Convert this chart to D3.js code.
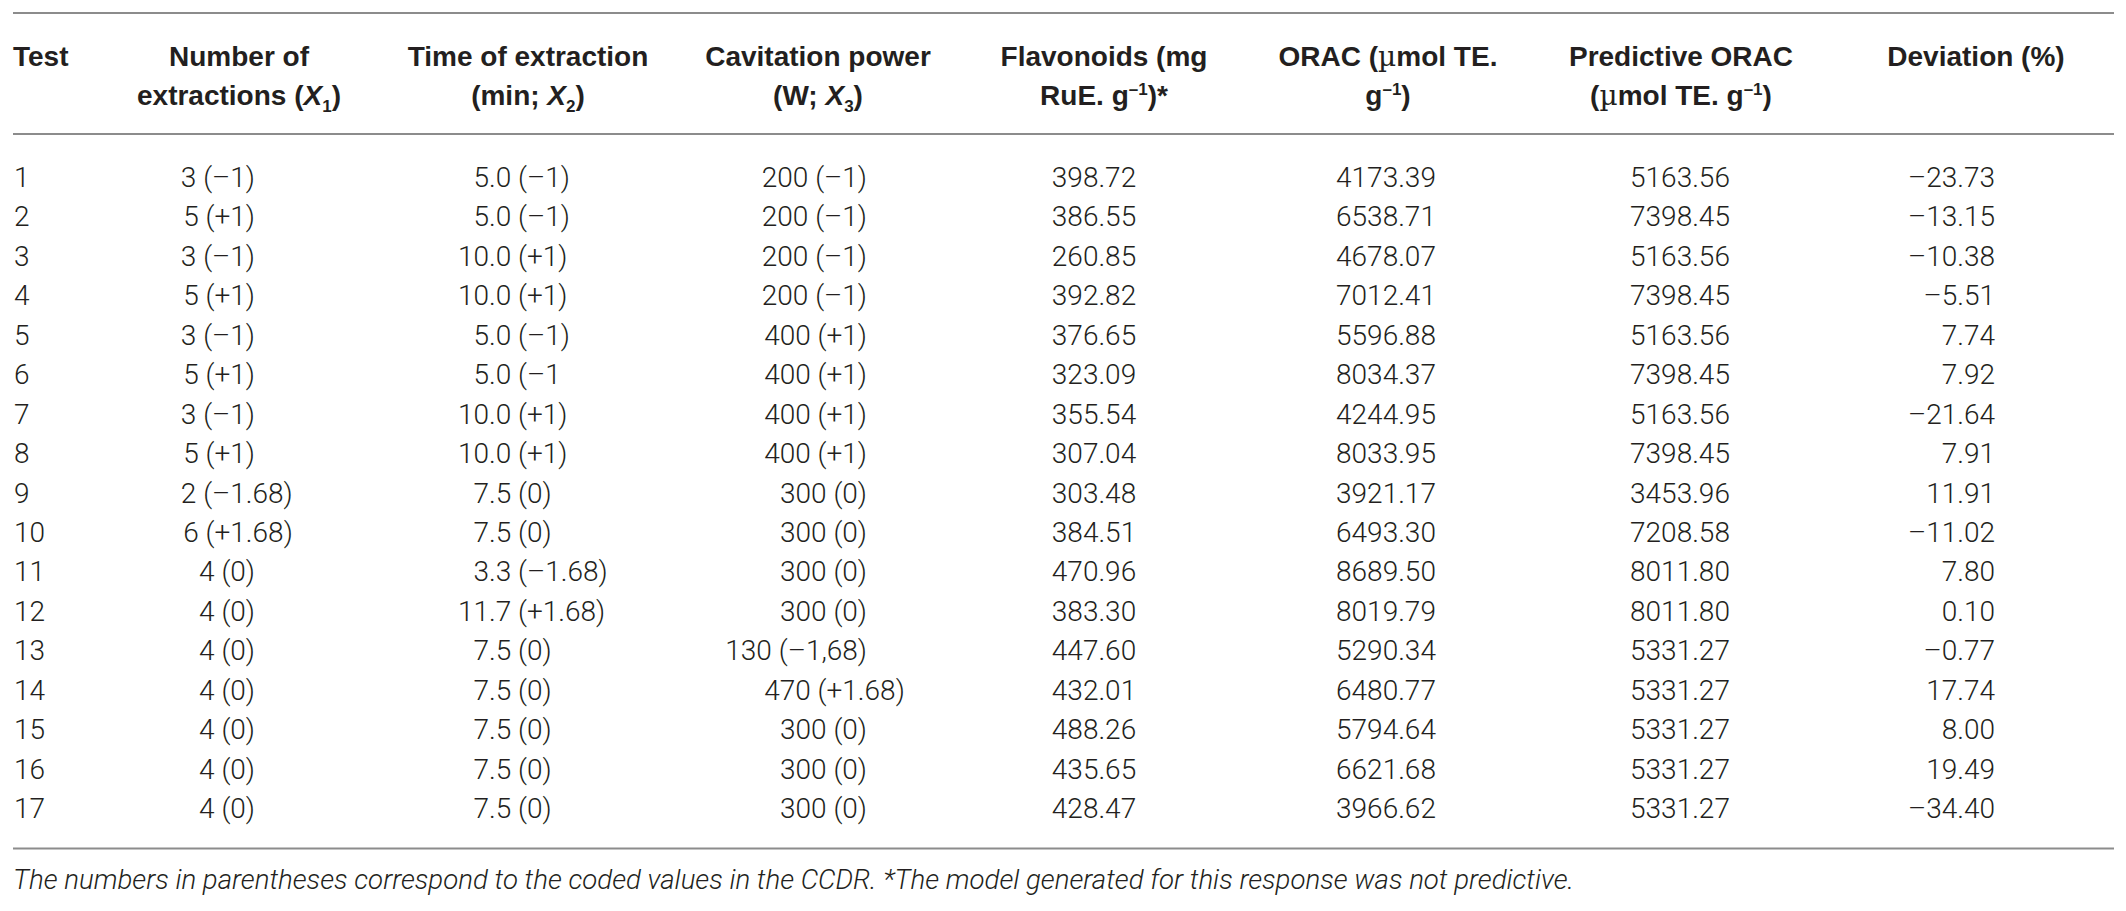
<!DOCTYPE html>
<html>
<head>
<meta charset="utf-8">
<script src="https://cdn.jsdelivr.net/npm/d3@7"></script>
<style>
    body { margin: 0; background: #fff; }
    svg { display: block; }
</style>
</head>
<body>
<div id="table"></div>
<script>
// table values
const tests = [1, 2, 3, 4, 5, 6, 7, 8, 9, 10, 11, 12, 13, 14, 15, 16, 17];
const extractions = ["3 (–1)", "5 (+1)", "3 (–1)", "5 (+1)", "3 (–1)", "5 (+1)", "3 (–1)", "5 (+1)",
    "2 (–1.68)", "6 (+1.68)", "4 (0)", "4 (0)", "4 (0)", "4 (0)", "4 (0)", "4 (0)", "4 (0)"];
const timeOfExtraction = ["5.0 (–1)", "5.0 (–1)", "10.0 (+1)", "10.0 (+1)", "5.0 (–1)", "5.0 (–1", "10.0 (+1)", "10.0 (+1)",
    "7.5 (0)", "7.5 (0)", "3.3 (–1.68)", "11.7 (+1.68)", "7.5 (0)", "7.5 (0)", "7.5 (0)", "7.5 (0)", "7.5 (0)"];
const cavitationPower = ["200 (–1)", "200 (–1)", "200 (–1)", "200 (–1)", "400 (+1)", "400 (+1)", "400 (+1)", "400 (+1)",
    "300 (0)", "300 (0)", "300 (0)", "300 (0)", "130 (–1,68)", "470 (+1.68)", "300 (0)", "300 (0)", "300 (0)"];
const flavonoids = [398.72, 386.55, 260.85, 392.82, 376.65, 323.09, 355.54, 307.04, 303.48, 384.51,
    470.96, 383.30, 447.60, 432.01, 488.26, 435.65, 428.47];
const orac = [4173.39, 6538.71, 4678.07, 7012.41, 5596.88, 8034.37, 4244.95, 8033.95, 3921.17, 6493.30,
    8689.50, 8019.79, 5290.34, 6480.77, 5794.64, 6621.68, 3966.62];
const predictiveOrac = [5163.56, 7398.45, 5163.56, 7398.45, 5163.56, 7398.45, 5163.56, 7398.45, 3453.96, 7208.58,
    8011.80, 8011.80, 5331.27, 5331.27, 5331.27, 5331.27, 5331.27];
const deviation = [-23.73, -13.15, -10.38, -5.51, 7.74, 7.92, -21.64, 7.91, 11.91, -11.02,
    7.80, 0.10, -0.77, 17.74, 8.00, 19.49, -34.40];

const headers = [
    ["Test"],
    ["Number of", "extractions (<i>X</i><sub>1</sub>)"],
    ["Time of extraction", "(min; <i>X</i><sub>2</sub>)"],
    ["Cavitation power", "(W; <i>X</i><sub>3</sub>)"],
    ["Flavonoids (mg", "RuE. g<sup>–1</sup>)*"],
    ["ORAC (<mu>µ</mu>mol TE.", "g<sup>–1</sup>)"],
    ["Predictive ORAC", "(<mu>µ</mu>mol TE. g<sup>–1</sup>)"],
    ["Deviation (%)"]
];
const footnote = "The numbers in parentheses correspond to the coded values in the CCDR. *The model generated for this response was not predictive.";

const width = 2126, height = 911;
const textColor = "#231f20";
const ruleColor = "#8c8c8c";
const bodyFont = "Roboto, 'Liberation Sans', sans-serif";
const headFont = "'Liberation Sans', Arial, sans-serif";

let fmt = d3.format(".2f");
let num = v => fmt(v).replace("−", "–");

// column layout: anchor x and how the cell text is lined up
let columns = [
    {head: 13,   headAnchor: "start",  x: 14,   mode: "start",  values: tests.map(String)},
    {head: 239,  headAnchor: "middle", x: 255,  mode: "code",   values: extractions},
    {head: 528,  headAnchor: "middle", x: 489,  mode: "int",    values: timeOfExtraction},
    {head: 818,  headAnchor: "middle", x: 867,  mode: "code",   values: cavitationPower},
    {head: 1104, headAnchor: "middle", x: 1094, mode: "middle", values: flavonoids.map(num)},
    {head: 1388, headAnchor: "middle", x: 1386, mode: "middle", values: orac.map(num)},
    {head: 1681, headAnchor: "middle", x: 1680, mode: "middle", values: predictiveOrac.map(num)},
    {head: 1976, headAnchor: "middle", x: 1995, mode: "end",    values: deviation.map(num)}
];

let svg = d3.select("#table")
    .append("svg")
    .attr("width", width)
    .attr("height", height);

let y = d3.scalePoint()
    .domain(tests)
    .range([187, 818]);

// rules
let rules = [13, 134, 848.5];
svg.selectAll(".rule")
    .data(rules)
    .enter().append("line")
    .attr("class", "rule")
    .attr("x1", 13)
    .attr("x2", 2114)
    .attr("y1", d => d)
    .attr("y2", d => d)
    .style("stroke", ruleColor)
    .style("stroke-width", 2);

// hidden text used to measure widths
let probe = svg.append("text")
    .style("font-family", bodyFont)
    .style("font-weight", 300)
    .style("font-size", "28px")
    .style("visibility", "hidden");
function measure(s){
    probe.text(s);
    return probe.node().getComputedTextLength();
}

// header lines with tiny markup for italics / sub / sup / mu
function addRich(textSel, markup){
    let parts = markup.split(/(<\/?\w+>)/).filter(p => p.length);
    let state = {i: false, sub: false, sup: false, mu: false};
    let shift = 0;
    parts.forEach(function(p){
        let m = p.match(/^<(\/?)(\w+)>$/);
        if (m) {
            state[m[2]] = m[1] !== "/";
            return;
        }
        let target = state.sub ? 7 : state.sup ? -10 : 0;
        let ts = textSel.append("tspan")
            .text(p)
            .attr("dy", target - shift);
        shift = target;
        if (state.i) ts.style("font-style", "italic");
        if (state.sub || state.sup) ts.style("font-size", "17px");
        if (state.mu) ts.style("font-weight", 400).style("font-family", "'DejaVu Serif', serif");
    });
}

let head = svg.append("g")
    .style("font-family", headFont)
    .style("font-weight", 700)
    .style("font-size", "28px")
    .style("fill", textColor);

columns.forEach(function(col, ci){
    headers[ci].forEach(function(line, li){
        let t = head.append("text")
            .attr("x", col.head)
            .attr("y", 66 + li * 39)
            .attr("text-anchor", col.headAnchor);
        addRich(t, line);
    });
});

// body cells
let body = svg.append("g")
    .style("font-family", bodyFont)
    .style("font-weight", 300)
    .style("font-size", "28px")
    .style("fill", textColor);

columns.forEach(function(col){
    body.selectAll(null)
        .data(col.values.map((v, i) => ({v: v, test: tests[i]})))
        .enter().append("text")
        .attr("y", d => y(d.test))
        .attr("text-anchor", col.mode === "middle" ? "middle" : col.mode === "end" ? "end" : "start")
        .attr("x", function(d){
            if (col.mode === "code") {
                // codes like (+1.68) start where the (+1) entries start
                return col.x - measure(d.v.replace(".68", ""));
            }
            if (col.mode === "int") {
                return col.x - measure(d.v.split(".")[0]);
            }
            return col.x;
        })
        .text(d => d.v);
});

probe.remove();

// footnote, sized so it ends where the reference line ends
let note = svg.append("text")
    .attr("x", 13)
    .attr("y", 889)
    .style("font-family", bodyFont)
    .style("font-weight", 300)
    .style("font-style", "italic")
    .style("font-size", "26px")
    .style("fill", textColor)
    .text(footnote);
let noteWidth = note.node().getComputedTextLength();
note.style("font-size", (26 * 1562 / noteWidth).toFixed(2) + "px");
</script>
</body>
</html>
